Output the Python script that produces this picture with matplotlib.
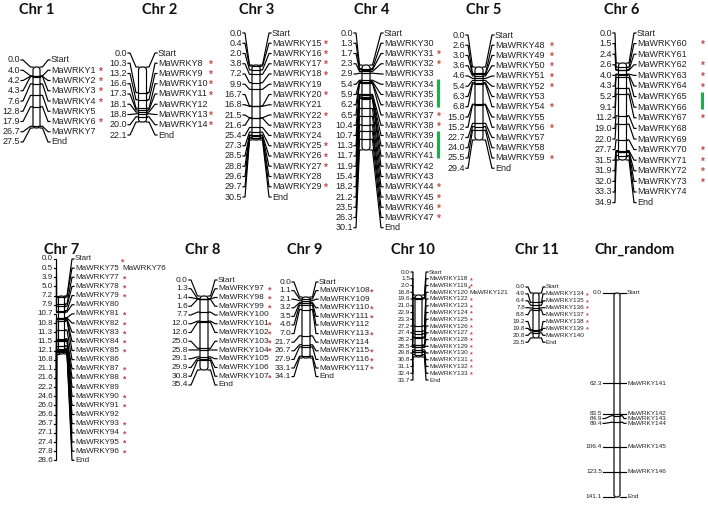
"""Chromosomal distribution of MaWRKY genes (MapChart-style drawing)."""
from __future__ import annotations

import matplotlib

matplotlib.use("Agg")
import matplotlib.pyplot as plt
from matplotlib.patches import FancyBboxPatch

# ── data ─────────────────────────────────────────────────────────────────

CHR1_POS = [0.0, 4.0, 4.2, 4.3, 7.6, 12.8, 17.9, 26.7, 27.5]
CHR1_GENES = [1, 2, 3, 4, 5, 6, 7]

CHR2_POS = [0.0, 10.3, 13.2, 16.6, 17.3, 18.1, 18.8, 20.0, 22.1]
CHR2_GENES = [8, 9, 10, 11, 12, 13, 14]

CHR3_POS = [0.0, 0.4, 2.0, 3.8, 7.2, 9.9, 16.7, 16.8, 21.5, 21.6, 25.4, 27.3,
            28.5, 28.8, 29.6, 29.7, 30.5]
CHR3_GENES = [15, 16, 17, 18, 19, 20, 21, 22, 23, 24, 25, 26, 27, 28, 29]

CHR4_POS = [0.0, 1.3, 1.7, 2.3, 2.9, 5.4, 5.9, 6.2, 6.5, 10.4, 10.7, 11.3,
            11.7, 11.9, 15.4, 18.2, 21.2, 23.5, 26.3, 30.1]
CHR4_GENES = [30, 31, 32, 33, 34, 35, 36, 37, 38, 39, 40, 41, 42, 43, 44, 45,
              46, 47]

CHR5_POS = [0.0, 2.6, 3.0, 3.6, 4.6, 5.4, 6.3, 6.8, 15.0, 15.2, 22.7, 24.0,
            25.5, 29.4]
CHR5_GENES = [48, 49, 50, 51, 52, 53, 54, 55, 56, 57, 58, 59]

CHR6_POS = [0.0, 1.5, 2.4, 2.6, 4.0, 4.3, 5.2, 9.1, 11.2, 19.0, 22.0, 27.7,
            31.5, 31.9, 32.0, 33.3, 34.9]
CHR6_GENES = [60, 61, 62, 63, 64, 65, 66, 67, 68, 69, 70, 71, 72, 73, 74]

CHR7_POS = [0.0, 0.5, 3.9, 5.0, 7.2, 7.9, 10.7, 10.8, 11.3, 11.5, 12.1, 16.8,
            21.1, 21.6, 22.2, 24.6, 26.0, 26.6, 26.7, 27.1, 27.4, 27.8, 28.6]
CHR7_GENES = [75, 77, 78, 79, 80, 81, 82, 83, 84, 85, 86, 87, 88, 89, 90, 91,
              92, 93, 94, 95, 96]

CHR8_POS = [0.0, 1.3, 1.4, 1.6, 7.7, 12.0, 12.6, 25.0, 25.8, 29.1, 29.9, 30.8,
            35.4]
CHR8_GENES = [97, 98, 99, 100, 101, 102, 103, 104, 105, 106, 107]

CHR9_POS = [0.0, 1.1, 2.1, 3.2, 3.5, 4.6, 7.0, 21.7, 26.7, 27.9, 33.1, 34.1]
CHR9_GENES = [108, 109, 110, 111, 112, 113, 114, 115, 116, 117]

CHR10_POS = [0.0, 1.5, 2.0, 16.8, 19.6, 21.0, 22.9, 23.3, 27.2, 27.4, 28.2,
             28.5, 29.8, 30.8, 31.1, 32.4, 33.7]
CHR10_GENES = [118, 119, 120, 122, 123, 124, 125, 126, 127, 128, 129, 130,
               131, 132, 133]

CHR11_POS = [0.0, 4.9, 6.4, 7.8, 8.8, 19.2, 19.8, 20.8, 23.5]
CHR11_GENES = [134, 135, 136, 137, 138, 139, 140]

CHRR_POS = [0.0, 62.3, 83.5, 84.9, 89.4, 106.4, 123.5, 141.1]
CHRR_GENES = [141, 142, 143, 144, 145, 146]

# second gene sharing one locus (drawn on the same row)
PAIRED = {75: 76, 120: 121}

STARRED = [1, 2, 3, 4, 6, 8, 9, 10, 11, 13, 14, 15, 16, 17, 18, 20, 22, 25,
           26, 27, 29, 31, 32, 37, 38, 44, 45, 46, 47, 48, 49, 50, 51, 52, 54,
           56, 59, 60, 62, 63, 64, 67, 70, 71, 72, 73, 76, 77, 78, 79, 81, 82,
           83, 84, 85, 87, 88, 90, 91, 93, 94, 95, 96, 97, 98, 99, 101, 102,
           103, 104, 107, 108, 110, 111, 113, 115, 116, 117, 118, 119, 121,
           122, 123, 124, 125, 126, 127, 128, 129, 130, 131, 132, 133, 134,
           135, 136, 137, 138, 139]

# tandem groups marked with a green bar
GREEN_GROUPS = {"Chr 4": [(34, 36), (39, 41)], "Chr 6": [(65, 66)]}

CHROMS = [
    ("Chr 1", CHR1_POS, CHR1_GENES), ("Chr 2", CHR2_POS, CHR2_GENES),
    ("Chr 3", CHR3_POS, CHR3_GENES), ("Chr 4", CHR4_POS, CHR4_GENES),
    ("Chr 5", CHR5_POS, CHR5_GENES), ("Chr 6", CHR6_POS, CHR6_GENES),
    ("Chr 7", CHR7_POS, CHR7_GENES), ("Chr 8", CHR8_POS, CHR8_GENES),
    ("Chr 9", CHR9_POS, CHR9_GENES), ("Chr 10", CHR10_POS, CHR10_GENES),
    ("Chr 11", CHR11_POS, CHR11_GENES), ("Chr_random", CHRR_POS, CHRR_GENES),
]

# ── layout (pixel units, y grows downward) ───────────────────────────────

LAYOUT = {
    "Chr 1": dict(tx=37, ty=10, nx=20, cx=36.5, bw=7, top=67, bot=128, lx=51, r0=60, step=10.25, fs=6.5, sx=99),
    "Chr 2": dict(tx=160, ty=10, nx=127, cx=142.5, bw=8, top=67, bot=122, lx=158, r0=53, step=10.25, fs=6.5, sx=209),
    "Chr 3": dict(tx=257, ty=10, nx=242, cx=256, bw=8, top=65, bot=140, lx=272, r0=33, step=10.25, fs=6.5, sx=324),
    "Chr 4": dict(tx=372, ty=10, nx=353, cx=366, bw=8, top=65, bot=150, lx=384, r0=33, step=10.25, fs=6.5, sx=437),
    "Chr 5": dict(tx=484, ty=10, nx=465, cx=479, bw=8, top=67, bot=140, lx=495, r0=35, step=10.25, fs=6.5, sx=550),
    "Chr 6": dict(tx=622, ty=10, nx=612, cx=622.5, bw=8, top=63, bot=160, lx=637, r0=33, step=10.6, fs=6.5, sx=701),
    "Chr 7": dict(tx=62, ty=250, nx=53, cx=61.5, bw=6, top=296, bot=354, lx=75, r0=259, step=9.15, fs=5.8, sx=122),
    "Chr 8": dict(tx=203, ty=250, nx=188, cx=204, bw=8, top=296, bot=370, lx=218, r0=280, step=8.75, fs=6.0, sx=268),
    "Chr 9": dict(tx=305, ty=250, nx=291, cx=306, bw=8, top=297, bot=358, lx=319, r0=282, step=8.6, fs=6.0, sx=370),
    "Chr 10": dict(tx=413, ty=250, nx=410, cx=418.5, bw=7, top=295, bot=357, lx=429, r0=272, step=6.75, fs=4.6, sx=470),
    "Chr 11": dict(tx=537, ty=250, nx=525, cx=536, bw=6, top=293, bot=338, lx=546, r0=287, step=6.9, fs=4.6, sx=586),
    "Chr_random": dict(tx=635, ty=250, nx=602, cx=617, bw=6, top=293, bot=497, lx=627, r0=None, step=4.8, fs=4.6, sx=None),
}

TEXT_FONT = ["Liberation Sans", "DejaVu Sans"]
TITLE_FONT = ["Lato", "DejaVu Sans"]
STAR_COLOR = "#c0504d"
GREEN = "#1fae4b"
LW = 0.85


# ── drawing helpers ──────────────────────────────────────────────────────


def label_rows(pos_px: list[float], lay: dict) -> list[float]:
    """Evenly spaced label rows, or positions pushed apart when r0 is None."""
    if lay["r0"] is not None:
        return [lay["r0"] + i * lay["step"] for i in range(len(pos_px))]
    rows: list[float] = []
    for y in pos_px:
        rows.append(y if not rows else max(y, rows[-1] + lay["step"]))
    return rows


def star(ax, x: float, y: float, fs: float) -> None:
    ax.text(x, y + 1.5, "*", family=TEXT_FONT, fontsize=fs + 0.5,
            ha="left", va="center", color=STAR_COLOR, fontweight="bold")


def draw_chrom(ax, name: str, pos: list[float], genes: list[int]) -> None:
    lay = LAYOUT[name]
    length = pos[-1]
    bl = lay["cx"] - lay["bw"] / 2
    br = lay["cx"] + lay["bw"] / 2
    pos_px = [lay["top"] + p / length * (lay["bot"] - lay["top"]) for p in pos]
    rows = label_rows(pos_px, lay)
    labels = ["Start"] + [f"MaWRKY{g}" for g in genes] + ["End"]
    fs = lay["fs"]

    ax.text(lay["tx"], lay["ty"], name, family=TITLE_FONT, fontweight="bold",
            fontsize=10.5, ha="center", va="center", color="#111111")

    bar = FancyBboxPatch((bl, lay["top"]), lay["bw"], lay["bot"] - lay["top"],
                         boxstyle=f"round,pad=0,rounding_size={lay['bw'] / 2.4}",
                         fc="white", ec="black", lw=LW, zorder=2)
    ax.add_patch(bar)

    nx, lx = lay["nx"], lay["lx"]
    for p, py, ry, lab in zip(pos, pos_px, rows, labels):
        # connectors from the number, across the bar, to the label
        ax.plot([nx + 1, nx + 3, bl - 2.5, bl], [ry, ry, py, py],
                color="black", lw=LW, zorder=1)
        ax.plot([br, br + 2.5, lx - 3, lx - 1], [py, py, ry, ry],
                color="black", lw=LW, zorder=1)
        if lab not in ("Start", "End"):
            ax.plot([bl, br], [py, py], color="black", lw=LW, zorder=3)
        ax.text(nx, ry, f"{p:.1f}", family=TEXT_FONT, fontsize=fs,
                ha="right", va="center", color="#222222")
        ax.text(lx, ry, lab, family=TEXT_FONT, fontsize=fs,
                ha="left", va="center", color="#222222")

    if lay["sx"] is None:
        return
    for g, ry in zip(genes, rows[1:-1]):
        if g in STARRED:
            star(ax, lay["sx"], ry, fs)
        if g in PAIRED:
            g2 = PAIRED[g]
            ax.text(lay["sx"], ry, f"MaWRKY{g2}", family=TEXT_FONT,
                    fontsize=fs, ha="left", va="center", color="#222222")
            if g2 in STARRED:
                star(ax, lay["sx"] - 2, ry - 0.8 * lay["step"], fs)

    for first, last in GREEN_GROUPS.get(name, []):
        y0 = rows[1 + genes.index(first)] - 5
        y1 = rows[1 + genes.index(last)] + 2
        ax.plot([lay["sx"] + 1, lay["sx"] + 1], [y0, y1], color=GREEN, lw=2.2,
                solid_capstyle="butt")


# ── figure ───────────────────────────────────────────────────────────────

fig = plt.figure(figsize=(7.08, 5.05), dpi=100)
ax = fig.add_axes([0, 0, 1, 1])
ax.set_xlim(0, 708)
ax.set_ylim(505, 0)
ax.axis("off")

for name, pos, genes in CHROMS:
    draw_chrom(ax, name, pos, genes)

fig.savefig("out.png", dpi=100, facecolor="white")
